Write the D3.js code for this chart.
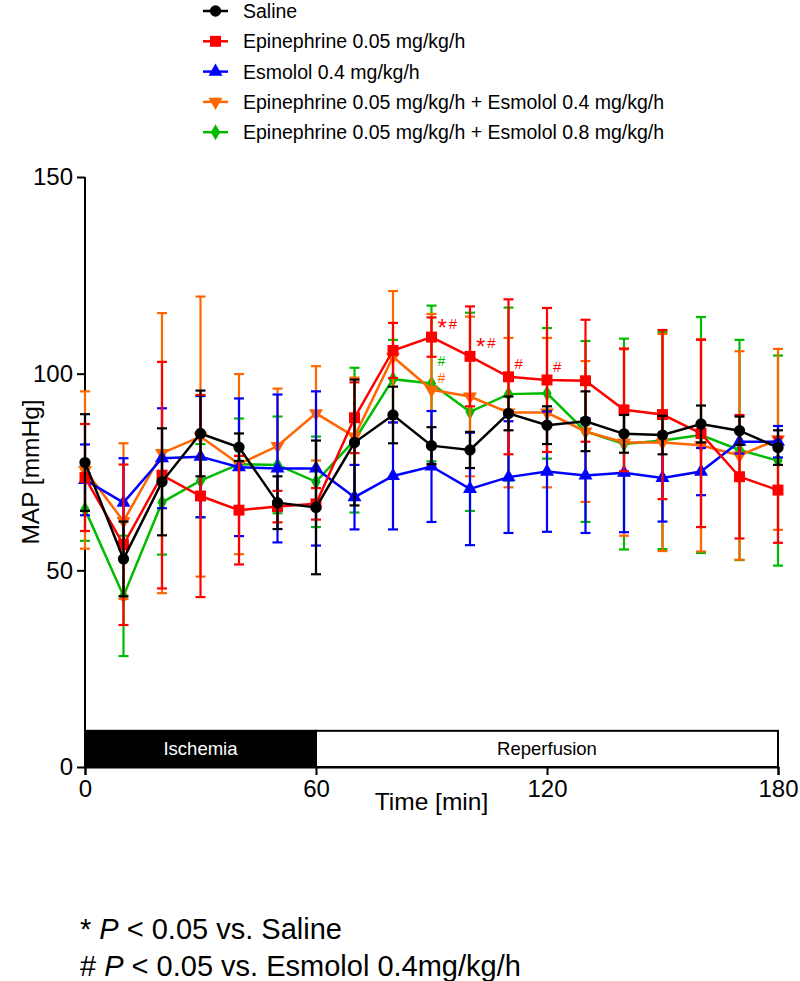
<!DOCTYPE html>
<html><head><meta charset="utf-8">
<script src="https://cdn.jsdelivr.net/npm/d3@7"></script>
<style>body{margin:0;background:#fff}svg{font-family:"Liberation Sans",Arial,Helvetica,sans-serif}</style>
</head><body><svg id="c" width="800" height="981"></svg>
<script>
const times = [0,10,20,30,40,50,60,70,80,90,100,110,120,130,140,150,160,170,180];
const salineMean = [77.4,52.9,72.5,84.8,81.3,67.2,66.0,82.5,89.5,81.7,80.6,89.9,86.9,87.9,84.7,84.4,87.2,85.5,81.2];
const salineSD   = [12.3,9.5,13.6,10.9,3.5,6.7,17.0,16.0,7.2,4.7,4.6,4.3,4.8,7.6,4.8,4.9,4.7,3.6,4.4];
const epiMean = [73.6,56.5,74.2,68.9,65.3,66.2,66.9,88.8,105.9,109.3,104.4,99.2,98.4,98.2,90.8,89.6,84.8,73.8,70.4];
const epiSD   = [13.6,20.4,28.8,25.7,13.8,4.0,4.0,9.0,7.0,5.0,12.7,19.7,18.3,15.5,15.6,21.5,23.8,15.7,13.4];
const esmMean = [73.0,67.2,78.5,78.9,76.2,75.9,75.9,68.6,74.0,76.4,70.7,73.7,75.1,74.1,74.8,73.5,75.1,82.7,82.7];
const esmSD   = [9.0,11.3,12.7,15.4,17.5,18.8,19.6,8.2,13.6,14.1,14.3,14.2,15.3,14.6,15.1,11.1,6.0,3.0,4.0];
const epiEsm04Mean = [75.5,62.5,79.8,84.0,77.0,81.6,89.9,84.0,104.3,95.9,94.2,90.1,90.1,85.3,82.5,82.5,81.8,79.2,83.3];
const epiEsm04SD   = [20.0,19.8,35.6,35.6,22.9,14.6,12.0,15.0,16.7,19.3,20.3,19.0,19.0,17.9,23.7,27.6,27.0,26.5,23.0];
const epiEsm08Mean = [65.5,43.5,67.3,72.8,77.0,76.8,72.5,83.1,98.6,97.5,90.3,94.8,95.0,85.3,82.1,83.0,84.4,80.6,77.9];
const epiEsm08SD   = [8.0,15.3,13.3,9.3,11.6,12.3,11.5,18.4,10.0,19.8,25.2,22.0,16.6,23.0,26.8,27.6,30.0,28.0,26.7];
const seriesNames = ["Saline","Epinephrine 0.05 mg/kg/h","Esmolol 0.4 mg/kg/h","Epinephrine 0.05 mg/kg/h + Esmolol 0.4 mg/kg/h","Epinephrine 0.05 mg/kg/h + Esmolol 0.8 mg/kg/h"];
const seriesColors = ["#000000","#ff0000","#0000ff","#ff6600","#00bb00"];
const seriesSymbols = ["circle","square","triangleUp","triangleDown","diamond"];
const xTicks = [0,60,120,180];
const yTicks = [0,50,100,150];
const phases = [{label:"Ischemia",from:0,to:60},{label:"Reperfusion",from:60,to:180}];
const sigMarks = [
  {t:90, series:1, text:"*#"},{t:100, series:1, text:"*#"},{t:110, series:1, text:"#"},{t:120, series:1, text:"#"},
  {t:90, series:4, text:"#"},{t:90, series:3, text:"#"}
];
const means = [salineMean, epiMean, esmMean, epiEsm04Mean, epiEsm08Mean];
const sds = [salineSD, epiSD, esmSD, epiEsm04SD, epiEsm08SD];

const svg = d3.select("#c");
const x = d3.scaleLinear().domain([0,180]).range([85,778]);
const y = d3.scaleLinear().domain([0,150]).range([767,177]);

// phase bar
const barTop = y(9.2);
phases.forEach((p,i)=>{
  svg.append("rect").attr("x",x(p.from)).attr("y",barTop).attr("width",x(p.to)-x(p.from)).attr("height",y(0)-barTop)
    .attr("fill", i===0?"#000":"#fff").attr("stroke","#000").attr("stroke-width",2);
  svg.append("text").attr("x",(x(p.from)+x(p.to))/2).attr("y",(barTop+y(0))/2+6).attr("text-anchor","middle")
    .attr("font-size",18.5).attr("fill", i===0?"#fff":"#000").text(p.label);
});

// axes
const yAxis = svg.append("g").attr("transform",`translate(${x(0)},0)`).call(d3.axisLeft(y).tickValues(yTicks).tickSize(8).tickPadding(4));
const xAxis = svg.append("g").attr("transform",`translate(0,${y(0)})`).call(d3.axisBottom(x).tickValues(xTicks).tickSize(8).tickPadding(5));
[yAxis,xAxis].forEach(a=>{
  a.selectAll("path,line").attr("stroke","#000").attr("stroke-width",2);
  a.selectAll("text").attr("font-size",24).attr("fill","#000").attr("font-family","Liberation Sans, Arial, sans-serif");
});
yAxis.select(".domain").attr("d",`M-0,${y(150)}V${y(0)}`);

svg.append("text").attr("x",x(90)).attr("y",810).attr("text-anchor","middle").attr("font-size",24.5).text("Time [min]");
svg.append("text").attr("transform",`translate(39,${y(75)}) rotate(-90)`).attr("text-anchor","middle").attr("font-size",24.5).text("MAP [mmHg]");

function symbolPath(kind){
  const s = {circle:[d3.symbolCircle,100],square:[d3.symbolSquare,120],triangleUp:[d3.symbolTriangle,85],
    triangleDown:[d3.symbolTriangle,85],diamond:[d3.symbolDiamond,75]}[kind];
  return d3.symbol().type(s[0]).size(s[1])();
}

const order = [4,3,2,1,0];
order.forEach(si=>{
  const g = svg.append("g");
  const col = seriesColors[si];
  const data = times.map((t,i)=>({t, m:means[si][i], s:sds[si][i]}));
  data.forEach(d=>{
    g.append("line").attr("x1",x(d.t)).attr("x2",x(d.t)).attr("y1",y(d.m+d.s)).attr("y2",y(d.m-d.s)).attr("stroke",col).attr("stroke-width",2.2);
    [d.m+d.s,d.m-d.s].forEach(v=>g.append("line").attr("x1",x(d.t)-5).attr("x2",x(d.t)+5).attr("y1",y(v)).attr("y2",y(v)).attr("stroke",col).attr("stroke-width",2.2));
  });
  g.append("path").datum(data).attr("d",d3.line().x(d=>x(d.t)).y(d=>y(d.m))).attr("fill","none").attr("stroke",col).attr("stroke-width",2.5);
  data.forEach(d=>{
    g.append("path").attr("d",symbolPath(seriesSymbols[si]))
      .attr("transform",`translate(${x(d.t)},${y(d.m)})${seriesSymbols[si]==="triangleDown"?" rotate(180)":""}`).attr("fill",col);
  });
});

// significance marks
sigMarks.forEach(s=>{
  const i = times.indexOf(s.t);
  let yy, xx = x(s.t)+6, fs = 15;
  if(s.series===1){ yy = y(means[1][i])-8; }
  else if(s.series===4){ yy = 366; fs = 14; }
  else { yy = 383; fs = 14; }
  const txt = svg.append("text").attr("x",xx).attr("y",yy).attr("fill",seriesColors[s.series]).attr("font-size",fs);
  if(s.text.startsWith("*")){
    txt.append("tspan").attr("font-size",24).attr("dy",7).text("*");
    txt.append("tspan").attr("dy",-7).attr("dx",2).text("#");
  } else txt.text(s.text);
});

// legend
const lg = svg.append("g");
seriesNames.forEach((n,i)=>{
  const yy = 11 + i*30.3;
  lg.append("line").attr("x1",203).attr("x2",228).attr("y1",yy).attr("y2",yy).attr("stroke",seriesColors[i]).attr("stroke-width",2.5);
  lg.append("path").attr("d",symbolPath(seriesSymbols[i])).attr("transform",`translate(215.5,${yy})${seriesSymbols[i]==="triangleDown"?" rotate(180)":""}`).attr("fill",seriesColors[i]);
  lg.append("text").attr("x",243).attr("y",yy+7).attr("font-size",19.5).text(n);
});

// footnotes
const f1 = svg.append("text").attr("x",80).attr("y",939).attr("font-size",29);
f1.append("tspan").text("* ");
f1.append("tspan").attr("font-style","italic").text("P");
f1.append("tspan").text(" < 0.05 vs. Saline");
const f2 = svg.append("text").attr("x",80).attr("y",976).attr("font-size",29);
f2.append("tspan").text("# ");
f2.append("tspan").attr("font-style","italic").text("P");
f2.append("tspan").text(" < 0.05 vs. Esmolol 0.4mg/kg/h");
</script></body></html>
